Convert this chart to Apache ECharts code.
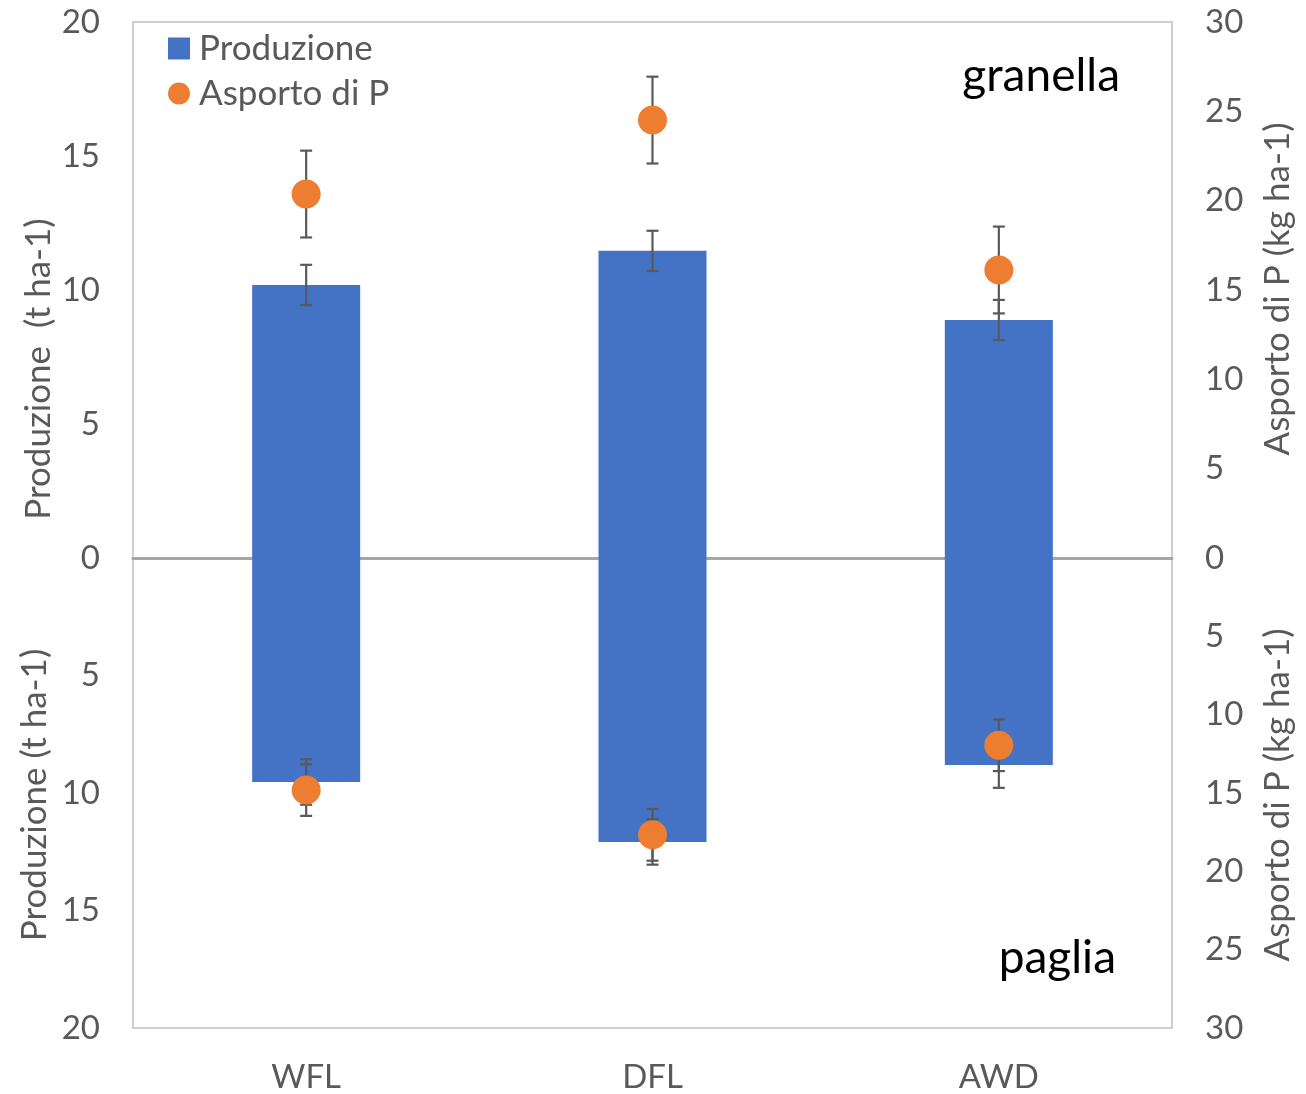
<!DOCTYPE html>
<html>
<head>
<meta charset="utf-8">
<script src="https://cdn.jsdelivr.net/npm/echarts@6/dist/echarts.min.js"></script>
<style>html,body{margin:0;padding:0;background:#fff;}#c{width:1306px;height:1094px;}</style>
</head>
<body>
<div id="c"></div>
<script>
// Data
const categories = ['WFL', 'DFL', 'AWD'];
const grainYield = [10.19, 11.46, 8.88];      // t ha-1 (granella)
const grainYieldErr = [0.75, 0.75, 0.75];
const grainP = [20.37, 24.51, 16.12];         // kg ha-1 (granella)
const grainPErr = [2.43, 2.43, 2.43];
const strawYield = [9.53, 12.08, 8.81];       // t ha-1 (paglia)
const strawYieldErr = [0.97, 0.97, 0.97];
const strawP = [14.81, 17.67, 11.95];         // kg ha-1 (paglia)
const strawPErr = [1.65, 1.65, 1.65];
const leftTicks = { min: 0, max: 20, interval: 5 };
const rightTicks = { min: 0, max: 30, interval: 5 };

const FONT = 'Lato';
const TXT = '#595959';
const FS = 33;
const FT = 35;

function errData(vals, errs) { return vals.map((v, i) => [i, v, errs[i]]); }
function errSeries(vals, errs, xi, yi, z) {
  return {
    type: 'custom', xAxisIndex: xi, yAxisIndex: yi, z: z, silent: true,
    encode: { x: 0, y: 1 },
    data: errData(vals, errs),
    renderItem: function (params, api) {
      const x = api.value(0), v = api.value(1), e = api.value(2);
      const hi = api.coord([x, v + e]);
      const lo = api.coord([x, v - e]);
      const cw = 6;
      const st = { stroke: '#595959', lineWidth: 2.2 };
      return {
        type: 'group', children: [
          { type: 'line', shape: { x1: hi[0], y1: hi[1], x2: lo[0], y2: lo[1] }, style: st },
          { type: 'line', shape: { x1: hi[0] - cw, y1: hi[1], x2: hi[0] + cw, y2: hi[1] }, style: st },
          { type: 'line', shape: { x1: lo[0] - cw, y1: lo[1], x2: lo[0] + cw, y2: lo[1] }, style: st }
        ]
      };
    }
  };
}

const axisLabelStyle = { fontFamily: FONT, fontSize: FS, color: TXT };

const option = {
  animation: false,
  backgroundColor: '#fff',
  legend: {
    orient: 'vertical', left: 163, top: 26, itemGap: 10,
    itemWidth: 22, itemHeight: 22,
    textStyle: { fontFamily: FONT, fontSize: FT, color: TXT, padding: [0, 0, 0, 4] },
    data: [{ name: 'Produzione', icon: 'rect' }, { name: 'Asporto di P', icon: 'circle' }]
  },
  grid: [
    { left: 133, right: 134, top: 22, height: 536, show: true, borderColor: '#bfbfbf', borderWidth: 1.5 },
    { left: 133, right: 134, top: 558, height: 472, show: true, borderColor: '#bfbfbf', borderWidth: 1.5 }
  ],
  xAxis: [
    { type: 'category', gridIndex: 0, data: categories, position: 'bottom',
      axisLine: { show: true, lineStyle: { color: '#a6a6a6', width: 3 } },
      axisTick: { show: false }, axisLabel: { show: false }, splitLine: { show: false } },
    { type: 'category', gridIndex: 1, data: categories, position: 'bottom',
      axisLine: { show: false }, axisTick: { show: false },
      axisLabel: Object.assign({ margin: 33 }, axisLabelStyle), splitLine: { show: false } }
  ],
  yAxis: [
    { type: 'value', gridIndex: 0, position: 'left', min: leftTicks.min, max: leftTicks.max, interval: leftTicks.interval,
      axisLine: { show: false }, axisTick: { show: false }, splitLine: { show: false },
      axisLabel: Object.assign({ margin: 33 }, axisLabelStyle) },
    { type: 'value', gridIndex: 0, position: 'right', min: rightTicks.min, max: rightTicks.max, interval: rightTicks.interval,
      axisLine: { show: false }, axisTick: { show: false }, splitLine: { show: false },
      axisLabel: Object.assign({ margin: 33 }, axisLabelStyle) },
    { type: 'value', gridIndex: 1, position: 'left', inverse: true, min: leftTicks.min, max: leftTicks.max, interval: leftTicks.interval,
      axisLine: { show: false }, axisTick: { show: false }, splitLine: { show: false },
      axisLabel: Object.assign({ margin: 33, showMinLabel: false }, axisLabelStyle) },
    { type: 'value', gridIndex: 1, position: 'right', inverse: true, min: rightTicks.min, max: rightTicks.max, interval: rightTicks.interval,
      axisLine: { show: false }, axisTick: { show: false }, splitLine: { show: false },
      axisLabel: Object.assign({ margin: 33, showMinLabel: false }, axisLabelStyle) }
  ],
  graphic: [
    { type: 'text', x: 39, y: 369, rotation: Math.PI / 2,
      style: { text: 'Produzione  (t ha-1)', fontFamily: FONT, fontSize: FT, fill: TXT, align: 'center', verticalAlign: 'middle' } },
    { type: 'text', x: 35, y: 795, rotation: Math.PI / 2,
      style: { text: 'Produzione (t ha-1)', fontFamily: FONT, fontSize: FT, fill: TXT, align: 'center', verticalAlign: 'middle' } },
    { type: 'text', x: 1278, y: 289, rotation: Math.PI / 2,
      style: { text: 'Asporto di P (kg ha-1)', fontFamily: FONT, fontSize: FT, fill: TXT, align: 'center', verticalAlign: 'middle' } },
    { type: 'text', x: 1278, y: 795, rotation: Math.PI / 2,
      style: { text: 'Asporto di P (kg ha-1)', fontFamily: FONT, fontSize: FT, fill: TXT, align: 'center', verticalAlign: 'middle' } },
    { type: 'text', x: 1120, y: 76,
      style: { text: 'granella', fontFamily: FONT, fontSize: 46, fill: '#000', align: 'right', verticalAlign: 'middle' } },
    { type: 'text', x: 1116, y: 958,
      style: { text: 'paglia', fontFamily: FONT, fontSize: 46, fill: '#000', align: 'right', verticalAlign: 'middle' } }
  ],
  series: [
    { name: 'Produzione', type: 'bar', xAxisIndex: 0, yAxisIndex: 0, barWidth: 108, z: 2,
      itemStyle: { color: '#4472c4' }, data: grainYield },
    { name: 'Produzione', type: 'bar', xAxisIndex: 1, yAxisIndex: 2, barWidth: 108, z: 2,
      itemStyle: { color: '#4472c4' }, data: strawYield },
    errSeries(grainYield, grainYieldErr, 0, 0, 3),
    errSeries(strawYield, strawYieldErr, 1, 2, 3),
    errSeries(grainP, grainPErr, 0, 1, 4),
    errSeries(strawP, strawPErr, 1, 3, 4),
    { name: 'Asporto di P', type: 'scatter', xAxisIndex: 0, yAxisIndex: 1, symbolSize: 29, z: 5,
      itemStyle: { color: '#ed7d31', opacity: 1 }, data: grainP },
    { name: 'Asporto di P', type: 'scatter', xAxisIndex: 1, yAxisIndex: 3, symbolSize: 29, z: 5,
      itemStyle: { color: '#ed7d31', opacity: 1 }, data: strawP }
  ]
};

const chart = echarts.init(document.getElementById('c'), null, { renderer: 'canvas' });
chart.setOption(option);
</script>
</body>
</html>
